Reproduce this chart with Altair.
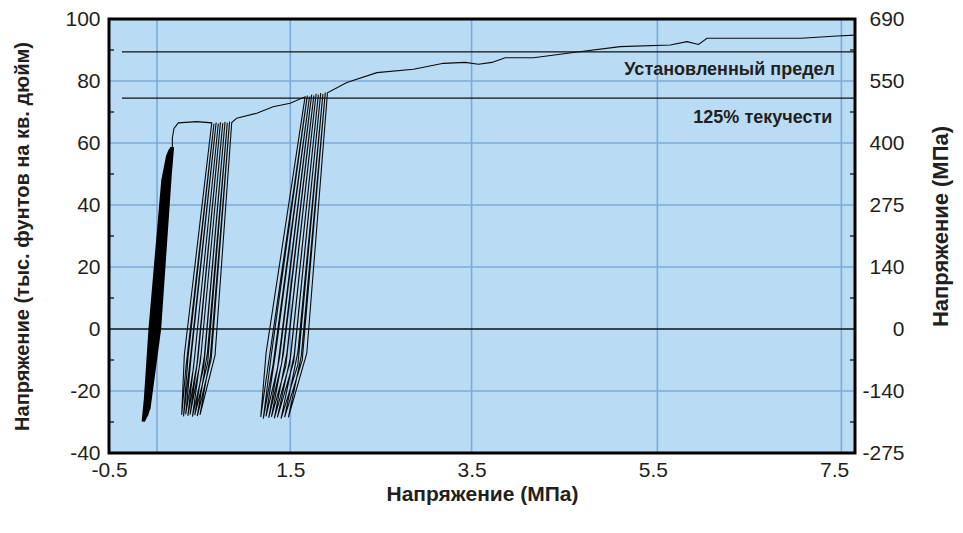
import altair as alt
import pandas as pd

# ---------------- layout ----------------
W, H = 746, 434
X_DOMAIN = [-0.5, 7.73]
Y_DOMAIN = [-40, 100]

BG = "#B9DCF4"
GRID = "#7EA8DA"
TXT = "#231F20"
FONT = "Liberation Sans"

# ---------------- axes / annotation data ----------------
x_tick_values = [-0.5, 1.5, 3.5, 5.5, 7.5]
x_grid_values = [0.03, 1.5, 3.5, 5.55, 7.58]
y_tick_values = [-40, -20, 0, 20, 40, 60, 80, 100]
y_grid_values = [-20, 20, 40, 60, 80]
y_right_labels = ["-275", "-140", "0", "140", "275", "400", "550", "690"]
y_minor_ticks = [-30, -10, 10, 30, 50, 70, 90]
zero_line_y = [0]
limit_lines_y = [89.4, 74.5]
limit_lines_x = [-0.357, -0.357]
label_texts = ["Установленный предел", "125% текучести"]
label_x = [7.51, 7.48]
label_y = [83.5, 68.2]

# ---------------- curve data ----------------
# cluster 1 (dense band of cycles)
c1_bot_x = [-0.121, -0.112, -0.104, -0.095, -0.086, -0.078, -0.070, -0.062]
c1_bot_y = [-29.9, -29.4, -28.9, -28.4, -27.9, -27.2, -26.5, -25.8]
c1_zup_x = [-0.020, -0.010, 0.000, 0.010, 0.020, 0.032, 0.044, 0.056]
c1_zup_y = [0, 0, 0, 0, 0, 0, 0, 0]
c1_mup_x = [0.118, 0.126, 0.134, 0.142, 0.150, 0.158, 0.166, 0.174]
c1_mup_y = [50, 50, 50, 50, 50, 50, 50, 50]
c1_top_x = [0.150, 0.158, 0.165, 0.172, 0.179, 0.186, 0.193, 0.199]
c1_top_y = [56.0, 56.6, 57.1, 57.5, 57.9, 58.2, 58.5, 58.7]
c1_mdn_x = [0.096, 0.104, 0.112, 0.120, 0.128, 0.136, 0.144]
c1_mdn_y = [48, 48, 48, 48, 48, 48, 48]
c1_zdn_x = [-0.045, -0.036, -0.027, -0.018, -0.008, 0.002, 0.012]
c1_zdn_y = [0, 0, 0, 0, 0, 0, 0]

# backbone from cluster 1 to cluster 2
bbA_x = [0.199, 0.199, 0.217, 0.265, 0.468]
bbA_y = [58.7, 61.7, 64.7, 66.5, 66.9]

# cluster 2
c2_top_x = [0.634, 0.658, 0.682, 0.706, 0.730, 0.755, 0.780, 0.805, 0.830, 0.854]
c2_top_y = [66.5, 66.2, 66.6, 66.3, 66.7, 66.4, 66.8, 66.5, 66.9, 66.6]
c2_dk_x = [0.331, 0.372, 0.410, 0.446, 0.482, 0.516, 0.552, 0.586, 0.620]
c2_dk_y = [-8.4, -9.0, -7.8, -8.6, -9.2, -8.0, -8.8, -7.6, -8.4]
c2_bot_x = [0.302, 0.322, 0.346, 0.370, 0.394, 0.420, 0.446, 0.474, 0.504]
c2_bot_y = [-27.7, -28.2, -27.5, -28.0, -27.6, -28.3, -27.8, -28.1, -27.7]
c2_uk_x = [0.350, 0.392, 0.432, 0.470, 0.508, 0.546, 0.588, 0.628, 0.670]
c2_uk_y = [-12.0, -11.0, -12.5, -11.5, -10.5, -12.0, -11.0, -9.5, -8.4]

# backbone from cluster 2 to cluster 3
bbB_x = [0.909, 1.130, 1.310, 1.498]
bbB_y = [68.0, 69.6, 71.7, 72.8]

# cluster 3
c3_top_x = [1.663, 1.688, 1.712, 1.736, 1.760, 1.785, 1.810, 1.836, 1.860, 1.886, 1.910]
c3_top_y = [74.9, 75.3, 75.0, 75.6, 75.3, 75.9, 75.6, 76.1, 75.8, 76.3, 76.2]
c3_dk_x = [1.233, 1.290, 1.340, 1.382, 1.424, 1.464, 1.504, 1.544, 1.584, 1.622]
c3_dk_y = [-7.7, -8.5, -7.2, -9.0, -8.0, -7.5, -8.8, -8.2, -7.4, -8.6]
c3_bot_x = [1.174, 1.202, 1.232, 1.262, 1.292, 1.324, 1.358, 1.398, 1.438, 1.479]
c3_bot_y = [-28.4, -28.9, -28.2, -28.7, -28.3, -28.8, -28.5, -28.9, -28.4, -28.5]
c3_uk_x = [1.255, 1.310, 1.360, 1.405, 1.450, 1.494, 1.538, 1.584, 1.632, 1.682]
c3_uk_y = [-12.0, -11.5, -12.5, -11.0, -12.0, -11.0, -10.5, -11.5, -10.0, -7.8]

# backbone after cluster 3 to the right edge
bbC_x = [2.124, 2.455, 2.859, 3.190, 3.429, 3.576, 3.724, 3.871, 4.183, 4.625,
         5.140, 5.692, 5.876, 6.004, 6.097, 7.135, 7.532, 7.730]
bbC_y = [79.5, 82.7, 83.8, 85.7, 86.0, 85.4, 86.0, 87.5, 87.5, 89.2,
         91.1, 91.6, 92.7, 91.8, 93.8, 93.8, 94.5, 94.8]


# ---------------- build paths ----------------
def cluster1_points():
    pts = []
    n = len(c1_bot_x)
    for k in range(n):
        pts += [(c1_bot_x[k], c1_bot_y[k]), (c1_zup_x[k], c1_zup_y[k]),
                (c1_mup_x[k], c1_mup_y[k]), (c1_top_x[k], c1_top_y[k])]
        if k < n - 1:
            pts += [(c1_mdn_x[k], c1_mdn_y[k]), (c1_zdn_x[k], c1_zdn_y[k])]
    return pts


def cluster_points(tx, ty, dx, dy, bx, by, ux, uy):
    pts = []
    for k in range(len(dx)):
        pts += [(tx[k], ty[k]), (dx[k], dy[k]), (bx[k], by[k]), (ux[k], uy[k])]
    pts.append((tx[-1], ty[-1]))
    return pts


p1 = cluster1_points()
main = (list(zip(bbA_x, bbA_y))
        + cluster_points(c2_top_x, c2_top_y, c2_dk_x, c2_dk_y, c2_bot_x, c2_bot_y, c2_uk_x, c2_uk_y)
        + list(zip(bbB_x, bbB_y))
        + cluster_points(c3_top_x, c3_top_y, c3_dk_x, c3_dk_y, c3_bot_x, c3_bot_y, c3_uk_x, c3_uk_y)
        + list(zip(bbC_x, bbC_y)))

df1 = pd.DataFrame({"x": [p[0] for p in p1], "y": [p[1] for p in p1], "i": range(len(p1))})
dfm = pd.DataFrame({"x": [p[0] for p in main], "y": [p[1] for p in main], "i": range(len(main))})

df_gx = pd.DataFrame({"x": x_grid_values})
df_gy = pd.DataFrame({"y": y_grid_values})
df_zero = pd.DataFrame({"y": zero_line_y})
df_lim = pd.DataFrame({"x": limit_lines_x, "y": limit_lines_y})
df_minor = pd.DataFrame({"y": y_minor_ticks})
df_txt = pd.DataFrame({"x": label_x, "y": label_y, "t": label_texts})
df_one = pd.DataFrame({"k": [0]})

# ---------------- scales and axes ----------------
xs = alt.Scale(domain=X_DOMAIN, nice=False, zero=False)
ys = alt.Scale(domain=Y_DOMAIN, nice=False, zero=False)

x_axis = alt.Axis(values=x_tick_values, grid=False, ticks=False, domain=False,
                  labelExpr="replace(format(datum.value, '.1f'), '\u2212', '-')",
                  labelFlush=False, labelOverlap=False,
                  labelFontSize=21, labelPadding=6, labelColor=TXT, labelFont=FONT,
                  title="Напряжение (МПа)", titleFontSize=21, titleFontWeight="bold",
                  titleFont=FONT, titleColor=TXT, titleBaseline="middle", titleY=41)
y_axis = alt.Axis(values=y_tick_values, grid=False, ticks=False, domain=False,
                  labelExpr="replace(format(datum.value, 'd'), '\u2212', '-')",
                  labelFlush=False, labelOverlap=False,
                  labelFontSize=21, labelPadding=9, labelColor=TXT, labelFont=FONT,
                  title="Напряжение (тыс. фунтов на кв. дюйм)", titleFontSize=20,
                  titleFontWeight="bold", titleFont=FONT, titleColor=TXT,
                  titleAngle=270, titleAlign="center", titleBaseline="middle",
                  titleX=-87, titleY=H / 2)

label_map = "{" + ",".join(f"'{v}':'{l}'" for v, l in zip(y_tick_values, y_right_labels)) + "}"
y_axis_r = alt.Axis(orient="right", values=y_tick_values, grid=False, ticks=False, domain=False,
                    labelFlush=False, labelOverlap=False,
                    labelFontSize=21, labelPadding=49, labelAlign="right", labelColor=TXT,
                    labelFont=FONT, labelExpr=label_map + "[''+datum.value]",
                    title="Напряжение (МПа)", titleFontSize=22, titleFontWeight=600,
                    titleFont=FONT, titleColor=TXT, titleAngle=270, titleAlign="center",
                    titleBaseline="middle", titleX=85, titleY=H / 2 - 10)

X = alt.X("x:Q", scale=xs, axis=x_axis)
Y = alt.Y("y:Q", scale=ys, axis=y_axis)

bg = alt.Chart(df_one).mark_rect(fill=BG, stroke=None).encode(
    x=alt.value(0), x2=alt.value(W), y=alt.value(0), y2=alt.value(H))
frame = alt.Chart(df_one).mark_rect(fill=None, stroke="#000000", strokeWidth=3).encode(
    x=alt.value(0), x2=alt.value(W), y=alt.value(0), y2=alt.value(H))

grid_x = alt.Chart(df_gx).mark_rule(color=GRID, strokeWidth=1.6).encode(x=X)
grid_y = alt.Chart(df_gy).mark_rule(color=GRID, strokeWidth=1.6).encode(y=Y)
zero = alt.Chart(df_zero).mark_rule(color="#111111", strokeWidth=1.5).encode(y=Y)
limits = alt.Chart(df_lim).mark_rule(color="#111111", strokeWidth=1.3).encode(
    x=X, x2=alt.value(W), y=Y)
minor_l = alt.Chart(df_minor).mark_rule(color="#111111", strokeWidth=1.3).encode(
    y=Y, x=alt.value(0), x2=alt.value(5))

line1 = alt.Chart(df1).mark_line(color="#000000", strokeWidth=3.5, clip=True).encode(
    x=X, y=Y, order="i:Q")
line_main = alt.Chart(dfm).mark_line(color="#0a0a0a", strokeWidth=1.1, clip=True).encode(
    x=X, y=Y, order="i:Q")

texts = alt.Chart(df_txt).mark_text(align="right", baseline="middle", fontSize=18,
                                    fontWeight="bold", font=FONT, color=TXT).encode(
    x=X, y=Y, text="t:N")

inner = alt.layer(bg, grid_x, grid_y, zero, limits, minor_l, line1, line_main, texts, frame)

minor_r = alt.Chart(df_minor).mark_rule(color="#111111", strokeWidth=1.3).encode(
    y=alt.Y("y:Q", scale=ys, axis=y_axis_r), x=alt.value(W - 5), x2=alt.value(W))

chart = alt.layer(inner, minor_r).resolve_scale(y="independent").properties(
    width=W, height=H, autosize="none",
    padding={"left": 101, "top": 11, "right": 100, "bottom": 70},
).configure_view(stroke=None).configure(background="white")

chart.save("out.html", embed_options={"renderer": "svg", "actions": False})
